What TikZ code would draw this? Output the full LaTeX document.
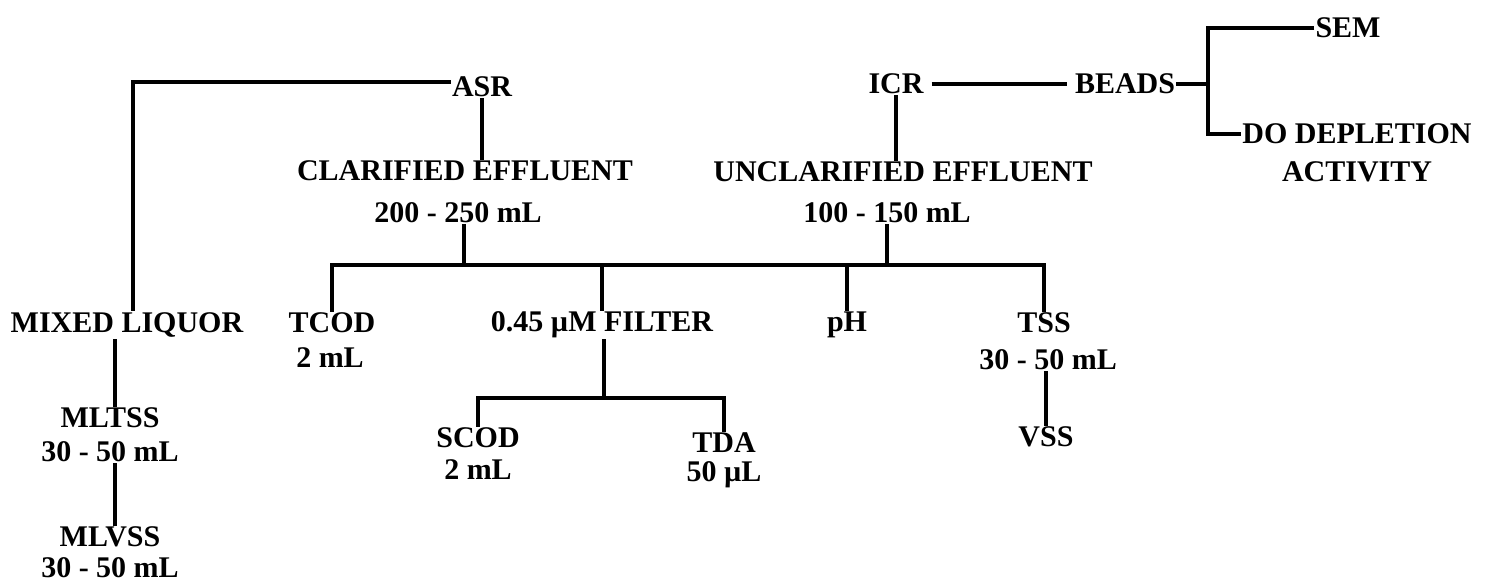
\documentclass[tikz,border=0pt]{standalone}
\usepackage{fontspec}
\setmainfont{Liberation Serif}
\begin{document}
\begin{tikzpicture}[x=1pt,y=-1pt,
  lbl/.style={inner sep=1pt,font=\fontsize{30}{34}\selectfont\bfseries},
  conn/.style={line width=3.2pt,line cap=butt}]
\useasboundingbox (0,0) rectangle (1487,586);
% nodes
\node[lbl] (asr) at (482,87) {ASR};
\node[lbl] (icr) at (896,84) {ICR};
\node[lbl] (beads) at (1125,84) {BEADS};
\node[lbl] (sem) at (1348,28) {SEM};
\node[lbl] (do) at (1357,134) {DO DEPLETION};
\node[lbl] (act) at (1357,172) {ACTIVITY};
\node[lbl] (ce) at (465,171) {CLARIFIED EFFLUENT};
\node[lbl] (cev) at (458,213) {200 - 250 mL};
\node[lbl] (ue) at (903,172) {UNCLARIFIED EFFLUENT};
\node[lbl] (uev) at (887,213) {100 - 150 mL};
\node[lbl] (ml) at (127,325) {MIXED LIQUOR};
\node[lbl] (mltss) at (110,418) {MLTSS};
\node[lbl] (mltssv) at (110,452) {30 - 50 mL};
\node[lbl] (mlvss) at (110,537) {MLVSS};
\node[lbl] (mlvssv) at (110,568) {30 - 50 mL};
\node[lbl] (tcod) at (332,323) {TCOD};
\node[lbl] (tcodv) at (330,358) {2 mL};
\node[lbl] (filter) at (602,325) {0.45 µM FILTER};
\node[lbl] (ph) at (847,325) {pH};
\node[lbl] (tss) at (1044,323) {TSS};
\node[lbl] (tssv) at (1048,360) {30 - 50 mL};
\node[lbl] (vss) at (1046,437) {VSS};
\node[lbl] (scod) at (478,438) {SCOD};
\node[lbl] (scodv) at (478,470) {2 mL};
\node[lbl] (tda) at (724,443) {TDA};
\node[lbl] (tdav) at (724,475) {50 µL};
% junctions
\coordinate (j1) at (464,265);
\coordinate (j2) at (604,398);
\coordinate (j3) at (1208,84);
\coordinate (mlc) at (133,82);
% connectors
\draw[conn] (asr.west |- mlc) -- (mlc) -- (mlc |- ml.north);
\draw[conn] (asr.south) -- (asr.south |- ce.north);
\draw[conn] (cev.south -| j1) -- (j1);
\draw[conn] (tcod.north) |- (j1) -| (tss.north);
\draw[conn] (filter.north) -- (filter.north |- j1);
\draw[conn] (ph.north) -- (ph.north |- j1);
\draw[conn] (uev.south) -- (uev.south |- j1);
\draw[conn] (filter.south -| j2) -- (j2);
\draw[conn] (scod.north) |- (j2) -| (tda.north);
\draw[conn,shorten <=7pt,shorten >=7pt] (icr.east) -- (beads.west);
\draw[conn] (icr.south) -- (icr.south |- ue.north);
\draw[conn] (beads.east) -- (j3);
\draw[conn] (sem.west) -| (j3) |- (do.west);
\draw[conn] ([xshift=5pt]mltss.north) -- ([xshift=5pt]mltss.north |- ml.south);
\draw[conn] ([xshift=5pt]mlvss.north) -- ([xshift=5pt]mlvss.north |- mltssv.south);
\draw[conn] (vss.north) -- (vss.north |- tssv.south);
\end{tikzpicture}
\end{document}
